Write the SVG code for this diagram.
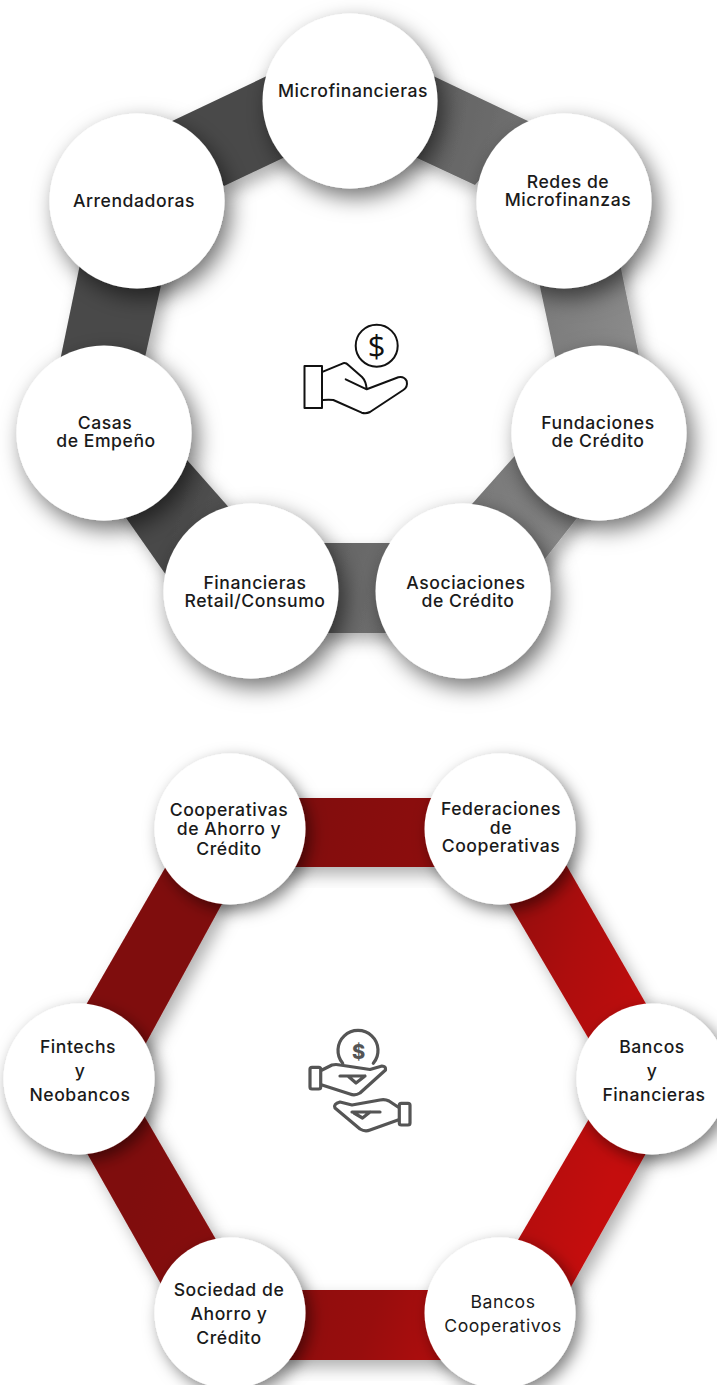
<svg xmlns="http://www.w3.org/2000/svg" width="717" height="1385" viewBox="0 0 717 1385">
<style>
text{font-family:"Inter","Liberation Sans",sans-serif;font-size:17.6px;letter-spacing:.55px;font-weight:500;fill:#1a1a1a;text-anchor:middle}
.n1{fill:#fff;filter:url(#cs)}
.n2{fill:#fff;filter:url(#cs2)}
.g{fill:url(#gray);filter:url(#bs)}
.r{fill:url(#red);filter:url(#bs)}
.i1{fill:none;stroke:#111;stroke-width:2;stroke-linejoin:round;stroke-linecap:round}
.i2{fill:none;stroke:#555;stroke-width:3.200;stroke-linejoin:round;stroke-linecap:round}
</style>
<defs>
<linearGradient id="gray" gradientUnits="userSpaceOnUse" x1="260" y1="200" x2="640" y2="300"><stop offset="0" stop-color="#4a4a4a"/><stop offset="1" stop-color="#8a8a8a"/></linearGradient>
<linearGradient id="red" gradientUnits="userSpaceOnUse" x1="220" y1="950" x2="640" y2="1100"><stop offset="0" stop-color="#7f0a0a"/><stop offset=".35" stop-color="#8c0b0b"/><stop offset=".6" stop-color="#980b0b"/><stop offset=".75" stop-color="#ad0f0f"/><stop offset="1" stop-color="#c41111"/></linearGradient>
<filter id="cs" x="-30%" y="-30%" width="170%" height="170%"><feDropShadow dx="6" dy="9" stdDeviation="11" flood-color="#000" flood-opacity=".55"/></filter>
<filter id="cs2" x="-30%" y="-30%" width="170%" height="170%"><feDropShadow dx="5" dy="6" stdDeviation="8" flood-color="#000" flood-opacity=".5"/></filter>
<filter id="bs" x="-30%" y="-30%" width="160%" height="160%"><feDropShadow dx="6" dy="8" stdDeviation="8" flood-color="#000" flood-opacity=".3"/></filter>
</defs>
<rect width="717" height="1385" fill="#fff"/>
<g id="connectors">
<polygon class="g" points="170,122 290,65 300,150 224,186"/>
<polygon class="g" points="410,65 530,122 475,185 400,150"/>
<polygon class="g" points="612,225 644,380 560,380 530,240"/>
<polygon class="g" points="595,495 530,578 440,540 520,450"/>
<polygon class="g" points="320,543 395,543 395,633 320,633"/>
<polygon class="g" points="187,460 240,520 180,595 110,495"/>
<polygon class="g" points="85,240 170,245 140,380 55,385"/>
<polygon class="r" points="75,1024 180,842 235,880 140,1054"/>
<polygon class="r" points="280,798 450,798 450,867 280,867"/>
<polygon class="r" points="553,842 660,1028 600,1058 497,883"/>
<polygon class="r" points="658,1132 558,1310 505,1262 600,1100"/>
<polygon class="r" points="280,1290 450,1290 450,1360 280,1360"/>
<polygon class="r" points="135,1100 225,1255 170,1300 75,1132"/>
</g>
<g id="node-microfinancieras"><circle class="n1" cx="350" cy="101" r="87.5"/><text x="353" y="97">Microfinancieras</text></g>
<g id="node-redes"><circle class="n1" cx="564" cy="201" r="87.5"/><text x="568" y="188">Redes de</text><text x="568" y="206">Microfinanzas</text></g>
<g id="node-fundaciones"><circle class="n1" cx="599" cy="433" r="87.5"/><text x="598" y="429">Fundaciones</text><text x="598" y="447">de Crédito</text></g>
<g id="node-asociaciones"><circle class="n1" cx="463" cy="591" r="87.5"/><text x="466" y="589">Asociaciones</text><text x="468" y="607">de Crédito</text></g>
<g id="node-financieras"><circle class="n1" cx="251" cy="591" r="87.5"/><text x="255" y="589">Financieras</text><text x="255" y="607">Retail/Consumo</text></g>
<g id="node-casas"><circle class="n1" cx="104" cy="433" r="87.5"/><text x="105" y="429">Casas</text><text x="106" y="447">de Empeño</text></g>
<g id="node-arrendadoras"><circle class="n1" cx="137" cy="201" r="87.5"/><text x="134" y="207">Arrendadoras</text></g>
<g id="icon-hand">
<rect class="i1" x="304.5" y="366" width="17.5" height="42"/>
<circle class="i1" cx="376.7" cy="345.7" r="21"/>
<text x="376.7" y="357" style="font-family:'Open Sans','Liberation Sans',sans-serif;font-size:31px;font-weight:400;letter-spacing:0;fill:#111">$</text>
<path class="i1" d="M323 371.700L343 363.300Q346 362.500 348.300 365L362 377Q366 381 366.700 389.300L345.700 379.300M366.700 389.300L398.300 377.300Q404 376 406.700 381Q408 387 403.300 390L370 412Q366 414 361.700 412.700L333.300 400Q329 399.500 323 400"/>
</g>
<g id="node-cooperativas"><circle class="n2" cx="230" cy="829" r="75.500"/><text x="229" y="816">Cooperativas</text><text x="229" y="835">de Ahorro y</text><text x="229" y="855">Crédito</text></g>
<g id="node-federaciones"><circle class="n2" cx="500" cy="829" r="75.500"/><text x="501" y="815">Federaciones</text><text x="501" y="834">de</text><text x="501" y="852">Cooperativas</text></g>
<g id="node-bancos"><circle class="n2" cx="652" cy="1079" r="75.500"/><text x="652" y="1053">Bancos</text><text x="652" y="1077">y</text><text x="654" y="1101">Financieras</text></g>
<g id="node-bancos-coop"><circle class="n2" cx="500" cy="1313" r="75.500"/><text x="503" y="1308" style="font-weight:400">Bancos</text><text x="503" y="1332" style="font-weight:400">Cooperativos</text></g>
<g id="node-sociedad"><circle class="n2" cx="230" cy="1313" r="75.500"/><text x="229" y="1296">Sociedad de</text><text x="229" y="1320">Ahorro y</text><text x="229" y="1344">Crédito</text></g>
<g id="node-fintechs"><circle class="n2" cx="79" cy="1079" r="75.500"/><text x="78" y="1053">Fintechs</text><text x="80" y="1077">y</text><text x="80" y="1101">Neobancos</text></g>
<g id="icon-hands">
<path class="i2" d="M342.700 1063.300A20 20 0 1 1 373.300 1063.300"/>
<text x="358.500" y="1059" style="font-size:20px;font-weight:800;letter-spacing:0;fill:#555">$</text>
<rect class="i2" x="310" y="1067.300" width="10.700" height="21.700" rx="2"/>
<path class="i2" d="M322 1070L332 1065Q336 1064 340 1065L370 1069.500L382 1066Q386 1066 385.500 1070L360 1093Q355 1096 350 1094L322 1085M340 1076H365M348.500 1076.500L356 1083L365 1076"/>
<rect class="i2" x="399.300" y="1103.300" width="10.700" height="21.700" rx="2"/>
<path class="i2" d="M398 1107L389 1101Q385 1099 380 1100L352 1105L340 1102Q333 1104 335 1108L360 1129Q365 1132 370 1130L398 1120M380 1112H352M370 1112L362.500 1118L354 1113"/>
</g>
</svg>
